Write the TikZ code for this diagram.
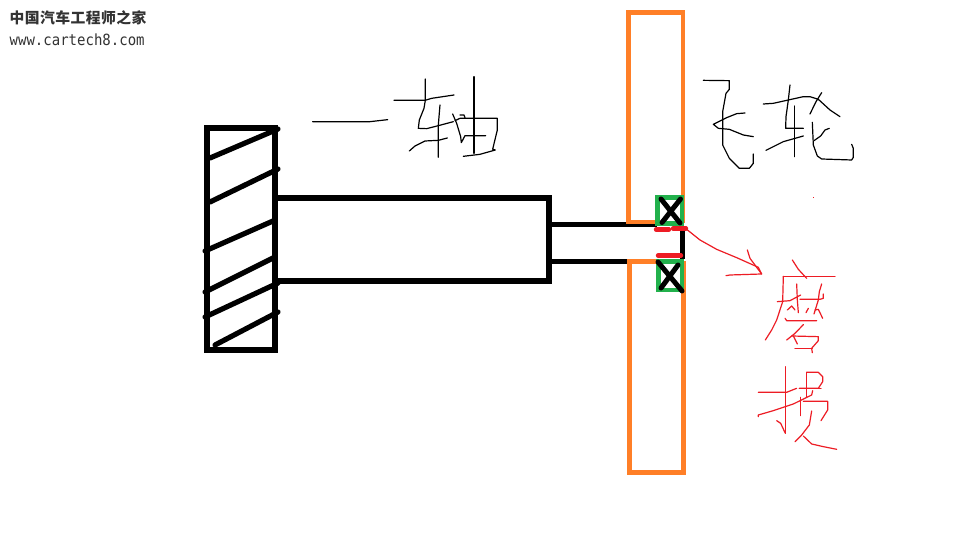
\documentclass[tikz,border=0pt]{standalone}
\usepackage{fontspec}
\newfontfamily\cjkwm{Noto Sans CJK SC}
\setmonofont{DejaVu Sans Mono}
\definecolor{orangeF}{HTML}{FF7F27}
\definecolor{greenB}{HTML}{22B14C}
\definecolor{redI}{HTML}{ED1C24}
\definecolor{wmgray}{HTML}{333333}
\tikzset{
  thickblack/.style={draw=black,line width=5.2pt,line cap=round,line join=miter},
  shaftline/.style={draw=black,line width=5pt},
  flywheel/.style={draw=orangeF,line width=4.8pt},
  bearing/.style={draw=greenB,line width=4.6pt},
  crossline/.style={draw=black,line width=5pt,line cap=round},
  rub/.style={draw=redI,line width=4.4pt,line cap=round},
  inkblack/.style={draw=black,line width=1.2pt,line join=round,line cap=round},
  inkred/.style={draw=redI,line width=1.2pt,line join=round,line cap=round},
}
\begin{document}
\begin{tikzpicture}[x=1pt,y=-1pt]
\useasboundingbox[fill=white] (0,0) rectangle (960,540);
% flywheel
\draw[shaftline] (549,224.5) -- (657,224.5);
\draw[shaftline] (549,261) -- (657,261);
\draw[flywheel] (656,222) -- (628.5,222) -- (628.5,12.5) -- (683,12.5) -- (683,223);
\draw[flywheel] (657,261.5) -- (629.5,261.5) -- (629.5,472.5) -- (683.5,472.5) -- (683.5,261);
% bearings
\draw[bearing] (657.5,197.5) rectangle (682,223.5);
\draw[bearing] (658.5,261.5) rectangle (682,290);
\draw[crossline] (661,199) -- (680,223);
\draw[crossline] (680.5,199) -- (662,222.5);
\draw[crossline] (658,262) -- (682,291);
\draw[crossline] (678,265) -- (661,288);
% gear and shaft
\draw[thickblack,line cap=butt] (207,128) rectangle (275,350);
\draw[thickblack,line cap=butt] (275,198) -- (549,198) -- (549,281) -- (275,281);
\foreach \a/\b/\c/\d in {210/158/278/129, 210/202/278/169, 205/251/273/221, 205/292/273/258, 205/317/278/283, 215/345/278/312}
  \draw[thickblack] (\a,\b) -- (\c,\d);
% rubbing marks
\draw[draw=black,line width=5pt] (682.5,228) -- (682.5,259);
\draw[rub] (656,229.5) -- (669,229.5);
\draw[rub] (673,228.5) -- (686,228.5);
\draw[rub] (658,255.5) -- (681,255.5);
% arrow
\begin{scope}[shift={(620,180)},x=0.3333pt,y=-0.3333pt]
\draw[inkred] (190,140) -- (240,180) -- (290,208) -- (350,233) -- (415,262) -- (425,282) -- (330,285) -- (318,287);
\draw[inkred] (382,210) -- (390,235) -- (410,262) -- (425,282);
\end{scope}
% yi zhou
\begin{scope}[shift={(300,70)},x=0.3333pt,y=-0.3333pt]
\draw[inkblack] (38,155) -- (210,155) -- (263,149);
\draw[inkblack] (282,91) -- (375,91) -- (395,85) -- (462,75);
\draw[inkblack] (376,27) -- (376,91) -- (372,115) -- (358,150) -- (355,175) -- (380,176) -- (415,167) -- (460,155);
\draw[inkblack] (420,105) -- (415,165) -- (415,262);
\draw[inkblack] (328,243) -- (345,228) -- (375,213) -- (415,211) -- (442,204);
\draw[inkblack] (458,132) -- (470,160) -- (482,200) -- (484,218) -- (495,197) -- (557,197);
\draw[inkblack] (465,152) -- (480,145) -- (592,145) -- (592,180) -- (578,238) -- (586,240) -- (540,253) -- (490,259);
\draw[inkblack] (522,20) -- (522,250);
\draw[inkblack] (480,135) -- (492,135) -- (495,143);
\end{scope}
% fei lun
\begin{scope}[shift={(690,70)},x=0.3333pt,y=-0.3333pt]
\draw[inkblack] (40,31) -- (118,32) -- (118,58) -- (108,70) -- (98,125) -- (98,225) -- (118,265) -- (148,295) -- (178,295) -- (190,280) -- (190,252);
\draw[inkblack] (165,129) -- (140,131) -- (110,143) -- (70,163) -- (85,175) -- (118,178) -- (160,195) -- (190,200);
\draw[inkblack] (220,102) -- (250,100) -- (295,90) -- (340,80) -- (360,80) -- (385,88) -- (420,120) -- (450,140);
\draw[inkblack] (300,45) -- (295,90) -- (288,140) -- (287,175) -- (340,175);
\draw[inkblack] (314,108) -- (314,260);
\draw[inkblack] (228,241) -- (280,215) -- (340,198);
\draw[inkblack] (395,68) -- (378,95) -- (360,132);
\draw[inkblack] (367,157) -- (370,225) -- (382,258) -- (395,267) -- (485,270) -- (490,262) -- (490,235) -- (485,223);
\draw[inkblack] (418,175) -- (405,180) -- (392,198) -- (372,212);
\end{scope}
% mo ca
\begin{scope}[shift={(740,250)},x=0.3333pt,y=-0.3333pt]
\draw[inkred] (157,30) -- (175,58) -- (200,85);
\draw[inkred] (130,79) -- (285,79);
\draw[inkred] (130,79) -- (128,155) -- (110,210) -- (95,240) -- (76,270);
\draw[inkred] (170,102) -- (172,150) -- (175,188);
\draw[inkred] (112,155) -- (150,152) -- (182,135);
\draw[inkred] (142,180) -- (155,168) -- (165,180);
\draw[inkred] (245,102) -- (238,125) -- (235,150) -- (222,192);
\draw[inkred] (180,148) -- (240,148) -- (250,145) -- (250,132);
\draw[inkred] (198,188) -- (205,175);
\draw[inkred] (225,180) -- (235,178) -- (248,205);
\draw[inkred] (135,205) -- (140,212) -- (230,212);
\draw[inkred] (190,224) -- (165,250) -- (140,270);
\draw[inkred] (155,258) -- (235,260) -- (235,272) -- (215,295) -- (217,308);
\draw[inkred] (160,258) -- (172,282);
\draw[inkred] (165,295) -- (217,295);
\draw[inkred] (136,350) -- (136,550);
\draw[inkred] (55,427) -- (140,427) -- (170,415);
\draw[inkred] (200,367) -- (200,440);
\draw[inkred] (200,367) -- (235,367) -- (248,380) -- (248,395) -- (235,415) -- (178,415);
\draw[inkred] (178,415) -- (243,415);
\draw[inkred] (110,512) -- (122,520) -- (136,550);
\draw[inkred] (55,500) -- (55,495) -- (100,482) -- (160,462) -- (215,435) -- (218,422);
\draw[inkred] (182,442) -- (182,497);
\draw[inkred] (190,454) -- (263,454) -- (263,480) -- (243,512);
\draw[inkred] (215,483) -- (208,525) -- (185,555) -- (165,575);
\draw[inkred] (190,558) -- (215,582) -- (250,590) -- (290,598);
\end{scope}
\fill[redI] (812.5,196.5) rectangle (814,198);
% watermark
\node[anchor=west,inner sep=0pt,text=wmgray] (wmcn) at (9.5,18) {\cjkwm\bfseries\fontsize{14.8}{15}\selectfont\addfontfeature{LetterSpace=3}中国汽车工程师之家};
\node[anchor=west,inner sep=0pt,text=wmgray,xscale=0.91,transform shape] (wmurl) at (9.5,39.5) {\ttfamily\fontsize{15.4}{16}\selectfont www.cartech8.com};
\end{tikzpicture}
\end{document}
